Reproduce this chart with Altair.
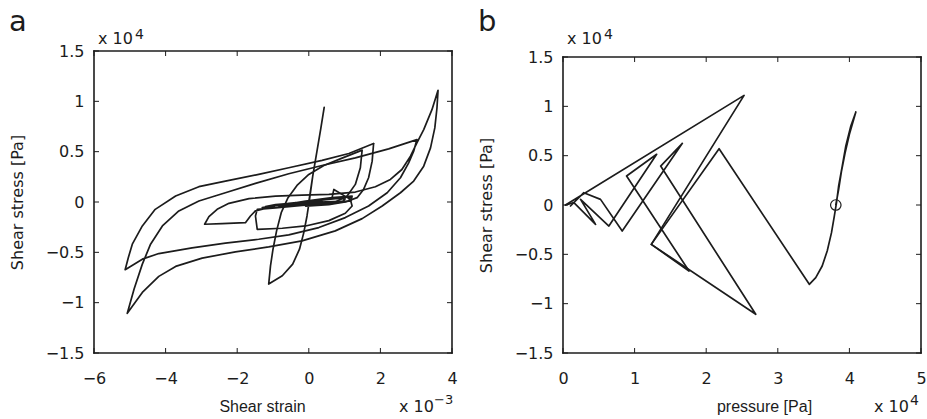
import altair as alt
import pandas as pd

FONT = "DejaVu Sans"
TITLE_FONT = "Liberation Sans"
INK = "#1c1c1c"

# ---------------- panel a : shear strain [x1e-3] vs shear stress [x1e4 Pa]
# first excursion: spike to the top, lobe below, rise to the first positive peak
lobe_strain = [0.0, 0.11, 0.22, 0.33, 0.43, 0.33, 0.22, 0.11, 0.02, -0.05, -0.14, -0.26,
               -0.45, -0.74, -1.12, -1.07, -1.00, -0.90, -0.77, -0.58, -0.33, 0.0, 0.42,
               0.93, 1.49, 1.44, 1.30, 1.07, 0.74, 0.37, -0.09, 0.56, 1.02, 1.35, 1.53,
               1.67, 1.77, 1.81]
lobe_stress = [0.0, 0.257, 0.488, 0.719, 0.941, 0.719, 0.488, 0.257, 0.026, -0.139, -0.304,
               -0.469, -0.617, -0.733, -0.815, -0.634, -0.469, -0.287, -0.106, 0.043, 0.165,
               0.274, 0.363, 0.436, 0.515, 0.340, 0.175, 0.059, 0.0, -0.026, -0.040, -0.026,
               0.0, 0.043, 0.125, 0.241, 0.406, 0.581]

# large hysteresis loops
loops_strain = [1.81, 1.12, 0.37, -0.56, -1.40, -2.33, -3.07, -3.72, -4.29, -4.65, -4.93,
                -5.04, -5.13,
                -4.65, -4.19, -3.26, -2.33, -1.40, -0.56, 0.28, 1.02, 1.67, 2.19, 2.56, 2.79,
                2.93, 3.02,
                2.23, 1.30, 0.37, -0.56, -1.49, -2.33, -3.07, -3.63, -4.09, -4.42, -4.65,
                -4.88, -5.07,
                -4.65, -4.19, -3.72, -2.98, -2.05, -1.12, -0.19, 0.74, 1.49, 2.05, 2.56, 2.93,
                3.21, 3.40, 3.52, 3.58, 3.61,
                3.44, 3.21, 3.02, 2.84, 2.60, 2.28, 1.86, 1.30, 0.56, -0.19, -0.93, -1.67,
                -2.23, -2.56, -2.79, -2.91,
                -2.42, -1.77, -1.63, -1.49]
loops_stress = [0.581, 0.482, 0.413, 0.340, 0.274, 0.208, 0.152, 0.059, -0.073, -0.238,
                -0.419, -0.551, -0.673,
                -0.568, -0.512, -0.455, -0.409, -0.370, -0.327, -0.254, -0.155, -0.040, 0.092,
                0.241, 0.389, 0.505, 0.620,
                0.528, 0.439, 0.363, 0.281, 0.185, 0.092, 0.010, -0.089, -0.238, -0.419,
                -0.617, -0.865, -1.106,
                -0.898, -0.739, -0.640, -0.558, -0.495, -0.446, -0.386, -0.287, -0.165,
                -0.040, 0.092, 0.208, 0.356, 0.538, 0.736, 0.934, 1.109,
                0.917, 0.719, 0.587, 0.455, 0.323, 0.224, 0.152, 0.099, 0.076, 0.069, 0.059,
                0.033, -0.013, -0.073, -0.145, -0.221,
                -0.215, -0.205, -0.139, -0.089]

# small cycles around the origin at the end
core_strain = [-1.49, -0.93, -0.09, 0.65, 1.21, 1.18, 0.56, -0.19, -0.93, -1.44, -1.49,
               -1.44, -0.74, -0.09, 0.56, 1.02, 1.21, 1.16, 0.70, 0.65, -0.09, -0.93, -1.30,
               -0.56, 0.37, 1.16, 1.12, 0.28, -0.56, -1.21, -0.93, -0.09, 0.74, 1.02, 0.93,
               0.19, -0.56, -0.84, -0.37, 0.37, 0.0]
core_stress = [-0.089, -0.040, 0.010, 0.043, 0.059, 0.010, -0.013, -0.033, -0.059, -0.073,
               -0.139, -0.271, -0.261, -0.238, -0.185, -0.112, -0.040, 0.026, 0.125, 0.043,
               -0.007, -0.033, -0.056, -0.013, 0.020, 0.053, 0.010, 0.0, -0.026, -0.046,
               -0.026, 0.0, 0.033, 0.033, 0.0, -0.013, -0.033, -0.040, -0.007, 0.010, 0.0]

# ---------------- panel b : pressure [x1e4 Pa] vs shear stress [x1e4 Pa]
# from the start point: first cycles at high pressure, then the butterfly towards zero
path_p = [3.81, 3.85, 3.89, 3.94, 4.00, 4.09, 4.02, 3.95, 3.90, 3.85, 3.82, 3.79, 3.75,
          3.69, 3.62, 3.53, 3.44, 2.18, 1.233, 1.76, 0.888, 1.308, 0.641, 0.245, 0.455,
          0.152, 0.035]
path_q = [0.0, 0.159, 0.345, 0.530, 0.716, 0.943, 0.801, 0.598, 0.395, 0.193, 0.024, -0.111,
          -0.280, -0.466, -0.618, -0.736, -0.804, 0.571, -0.399, -0.669, 0.294, 0.514,
          -0.213, 0.057, -0.196, 0.024, 0.0]
# large excursion from the origin and the cycles that follow it
late_p = [0.035, 2.529, 1.233, 2.692, 1.364, 1.667, 0.827, 0.524, 0.291, 0.105]
late_q = [0.0, 1.111, -0.399, -1.108, 0.395, 0.625, -0.264, 0.057, 0.125, -0.010]
start_p = [3.81]
start_q = [0.0]

a_xticks = [-6, -4, -2, 0, 2, 4]
b_xticks = [0, 1, 2, 3, 4, 5]
yticks = [-1.5, -1, -0.5, 0, 0.5, 1, 1.5]


def curve_table(parts):
    rows = []
    for name, xs, ys in parts:
        for i, (x, y) in enumerate(zip(xs, ys)):
            rows.append({"seg": name, "i": i, "x": x, "y": y})
    return pd.DataFrame(rows)


def txt(s, x, y, size=16, align="left", baseline="alphabetic"):
    return alt.Chart(pd.DataFrame({"t": [s]})).mark_text(
        font=FONT, fontSize=size, color=INK, align=align, baseline=baseline
    ).encode(x=alt.value(x), y=alt.value(y), text="t:N")


def panel(df, xdom, xticks, W, H, ytop, xtitle, xtitle_x, letter, exp_bottom, extra=None):
    xs = alt.Scale(domain=xdom, nice=False, zero=False)
    ys = alt.Scale(domain=[-1.5, ytop], nice=False, zero=False)
    frame_top_px = H * (ytop - 1.5) / (ytop + 1.5)
    xax = alt.Axis(values=xticks, format="d", title=xtitle, titleX=xtitle_x, titleY=58,
                   titleBaseline="alphabetic", titleAlign="center", labelPadding=17,
                   labelFlush=False, titleFont=TITLE_FONT)
    yax = alt.Axis(values=yticks, format="~g", title="Shear stress [Pa]", titleX=-77,
                   titleY=(H + frame_top_px) / 2, titleAngle=-90, titleAlign="center",
                   titleBaseline="middle", labelPadding=10)
    X = lambda f: alt.X(f, scale=xs, axis=xax)
    Y = lambda f: alt.Y(f, scale=ys, axis=yax)

    curves = alt.Chart(df).mark_line(
        color=INK, strokeWidth=1.7, strokeJoin="round", strokeCap="round"
    ).encode(x=X("x:Q"), y=Y("y:Q"), detail="seg:N", order="i:Q")

    # box around the plotting area
    x0, x1 = xdom
    box = pd.DataFrame({"x": [x0, x0, x0, x1], "x2": [x1, x1, x0, x1],
                        "y": [-1.5, 1.5, -1.5, -1.5], "y2": [-1.5, 1.5, 1.5, 1.5]})
    frame = alt.Chart(box).mark_rule(color=INK, strokeWidth=1.6, strokeCap="square").encode(
        x=X("x:Q"), x2="x2:Q", y=Y("y:Q"), y2="y2:Q")

    # inward tick marks on all four sides, 5 px long
    ly = 5 * (ytop + 1.5) / H
    lx = 5 * (x1 - x0) / W
    tx = pd.DataFrame({"x": xticks * 2,
                       "y": [-1.5] * len(xticks) + [1.5] * len(xticks),
                       "y2": [-1.5 + ly] * len(xticks) + [1.5 - ly] * len(xticks)})
    ty = pd.DataFrame({"y": yticks * 2,
                       "x": [x0] * len(yticks) + [x1] * len(yticks),
                       "x2": [x0 + lx] * len(yticks) + [x1 - lx] * len(yticks)})
    tk = dict(color=INK, strokeWidth=1)
    ticks = [
        alt.Chart(tx).mark_rule(**tk).encode(x=X("x:Q"), y=Y("y:Q"), y2="y2:Q"),
        alt.Chart(ty).mark_rule(**tk).encode(y=Y("y:Q"), x=X("x:Q"), x2="x2:Q"),
    ]
    labels = [
        txt(letter, -85, -20, size=29),
        txt("x 10", 4, -7, size=16),
        txt("4", 41, -12, size=14),
    ] + exp_bottom
    layers = [curves, frame] + ticks + labels
    if extra is not None:
        layers.append(extra(X, Y))
    return alt.layer(*layers).properties(width=W, height=H)


df_a = curve_table([
    ("lobe", lobe_strain, lobe_stress),
    ("loops", loops_strain, loops_stress),
    ("core", core_strain, core_stress),
])
df_b = curve_table([
    ("path", path_p, path_q),
    ("late", late_p, late_q),
])

W, H = 358, 302
exp_a = [txt("x 10", 305, H + 59, size=16), txt("\u22123", 340, H + 51, size=13)]
exp_b = [txt("x 10", 311, H + 59, size=16), txt("4", 347, H + 52, size=14)]


def start_mark(X, Y):
    return alt.Chart(pd.DataFrame({"x": start_p, "y": start_q})).mark_point(
        shape="circle", filled=False, size=110, color=INK, strokeWidth=1.2, opacity=1
    ).encode(x=X("x:Q"), y=Y("y:Q"))


pa = panel(df_a, [-6, 4], a_xticks, W, H, 1.5, "Shear strain", 168, "a", exp_a)
# panel b's box starts 6 px lower, so its scale reaches a little above 1.5
pb = panel(df_b, [0, 5], b_xticks, W, H, 1.561, "pressure [Pa]", 201, "b", exp_b,
           extra=start_mark)

chart = alt.hconcat(pa, pb, spacing=20).properties(
    padding={"left": 9, "top": 8, "right": 0, "bottom": 0},
    background="white",
).configure_view(
    stroke=None
).configure_axis(
    domain=False, ticks=False, tickSize=0, grid=False,
    labelFont=FONT, labelFontSize=16, labelColor=INK,
    titleFont=FONT, titleFontSize=16, titleFontWeight="normal", titleColor=INK,
)

chart.save("out.html", embed_options={"renderer": "svg", "actions": False})
